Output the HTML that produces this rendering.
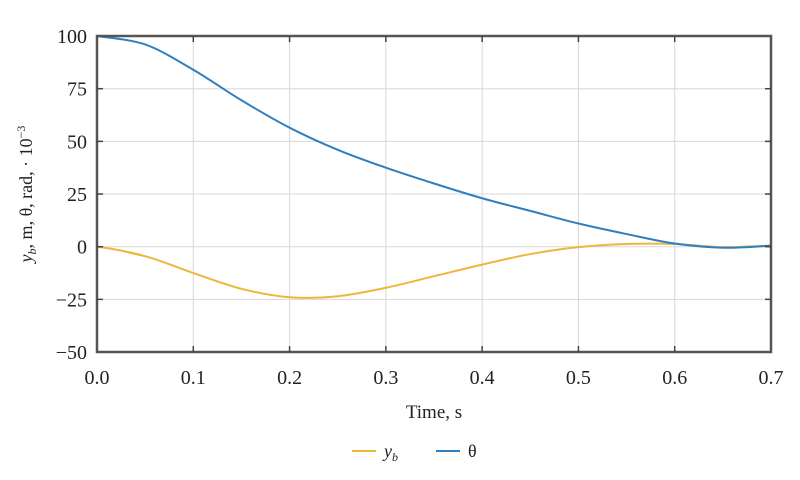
<!DOCTYPE html>
<html><head><meta charset="utf-8"><style>
body{margin:0;background:#fff;width:800px;height:475px;overflow:hidden}
svg text{font-family:"Liberation Serif",serif;fill:#222}
</style></head><body>
<svg id="s" width="800" height="475" xmlns="http://www.w3.org/2000/svg">
<g id="grid" stroke="#d8d8d8" stroke-width="1"></g>
<g id="curves" fill="none" stroke-width="2"></g>
<rect x="97" y="36" width="674" height="316" fill="none" stroke="#555" stroke-width="2.5"/>
<g id="ticks" stroke="#444" stroke-width="1.5"></g>
<g id="labels" font-size="20"></g>
<text x="434" y="418" font-size="19" text-anchor="middle">Time, s</text>
<text transform="translate(32,194) rotate(-90)" font-size="18" text-anchor="middle"><tspan font-style="italic">y</tspan><tspan font-style="italic" font-size="12" dy="4">b</tspan><tspan dy="-4">, m, θ, rad, · 10</tspan><tspan font-size="12" dy="-7">−3</tspan></text>
<line x1="352" y1="451" x2="376" y2="451" stroke="#ecb83c" stroke-width="2"/>
<text x="384" y="457" font-size="18" font-style="italic">y<tspan font-size="12" dy="4">b</tspan></text>
<line x1="436" y1="451" x2="460" y2="451" stroke="#2f7fc0" stroke-width="2"/>
<text x="468" y="457" font-size="18">θ</text>
</svg>
<script>
const X=t=>97+t/0.7*674, Y=v=>246.7-v*316/150;
const ns="http://www.w3.org/2000/svg";
function el(p,n,a,txt){const e=document.createElementNS(ns,n);for(const k in a)e.setAttribute(k,a[k]);if(txt!==undefined)e.textContent=txt;document.getElementById(p).appendChild(e);}
for(let i=1;i<7;i++){const x=X(i/10);el("grid","line",{x1:x,x2:x,y1:36,y2:352});el("ticks","line",{x1:x,x2:x,y1:352,y2:346});el("ticks","line",{x1:x,x2:x,y1:36,y2:42});}
for(let v=-25;v<100;v+=25){const y=Y(v);el("grid","line",{x1:97,x2:771,y1:y,y2:y});el("ticks","line",{x1:97,x2:103,y1:y,y2:y});el("ticks","line",{x1:771,x2:765,y1:y,y2:y});}
for(let i=0;i<=7;i++)el("labels","text",{x:X(i/10),y:384,"text-anchor":"middle"},(i/10).toFixed(1));
for(let v=-50;v<=100;v+=25)el("labels","text",{x:87,y:Y(v)+7,"text-anchor":"end"},v<0?"−"+(-v):v);
function path(pts){const P=pts.map(p=>[X(p[0]),Y(p[1])]);let d="M"+P[0];for(let i=0;i<P.length-1;i++){const p0=P[Math.max(0,i-1)],p1=P[i],p2=P[i+1],p3=P[Math.min(P.length-1,i+2)];d+=` C${p1[0]+(p2[0]-p0[0])/6},${p1[1]+(p2[1]-p0[1])/6} ${p2[0]-(p3[0]-p1[0])/6},${p2[1]-(p3[1]-p1[1])/6} ${p2[0]},${p2[1]}`;}return d;}
el("curves","path",{stroke:"#ecb83c",d:path([[-0.05,2.5],[0,0],[0.05,-4.5],[0.1,-12.5],[0.15,-20],[0.2,-24],[0.25,-23.5],[0.3,-19.5],[0.35,-14],[0.4,-8.5],[0.45,-3.5],[0.5,-0.2],[0.55,1.3],[0.6,1.3],[0.65,-0.2],[0.7,0.5]]).replace(/^M[^C]*C[^C]*/,m=>"M"+X(0)+","+Y(0)+" C"+m.split("C")[1].split(" ").slice(0,0).join("")+X(0.0167)+","+Y(-0.8)+" "+X(0.033)+","+Y(-2.5)+" "+X(0.05)+","+Y(-4.5))});
el("curves","path",{stroke:"#2f7fc0",d:path([[0,100],[0.05,96],[0.1,84],[0.15,69.5],[0.2,56.5],[0.25,46],[0.3,37.5],[0.35,30],[0.4,23],[0.45,17],[0.5,11],[0.55,6],[0.6,1.5],[0.65,-0.5],[0.7,0.5]])});
</script>
</body></html>
